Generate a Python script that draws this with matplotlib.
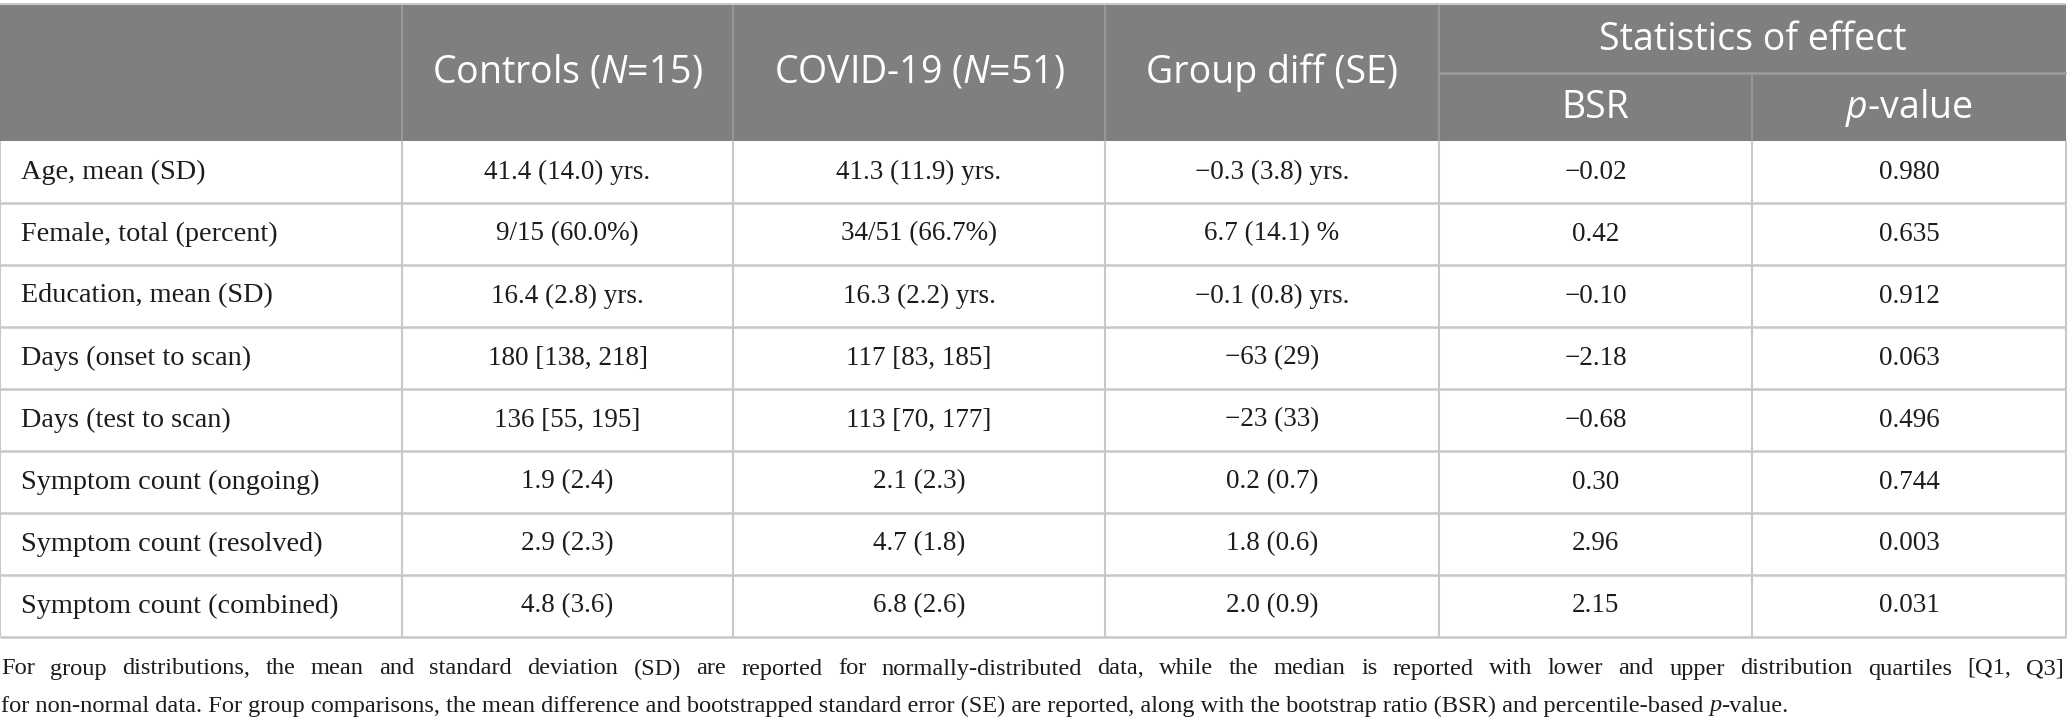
import matplotlib.pyplot as plt
from matplotlib.patches import Rectangle

plt.rcParams["mathtext.fontset"] = "custom"
plt.rcParams["mathtext.rm"] = "Open Sans"
plt.rcParams["mathtext.it"] = "Open Sans:italic"

# table content
row_labels = [
    "Age, mean (SD)",
    "Female, total (percent)",
    "Education, mean (SD)",
    "Days (onset to scan)",
    "Days (test to scan)",
    "Symptom count (ongoing)",
    "Symptom count (resolved)",
    "Symptom count (combined)",
]
controls = ["41.4 (14.0) yrs.", "9/15 (60.0%)", "16.4 (2.8) yrs.", "180 [138, 218]",
            "136 [55, 195]", "1.9 (2.4)", "2.9 (2.3)", "4.8 (3.6)"]
covid = ["41.3 (11.9) yrs.", "34/51 (66.7%)", "16.3 (2.2) yrs.", "117 [83, 185]",
         "113 [70, 177]", "2.1 (2.3)", "4.7 (1.8)", "6.8 (2.6)"]
group_diff = ["\u22120.3 (3.8) yrs.", "6.7 (14.1) %", "\u22120.1 (0.8) yrs.", "\u221263 (29)",
              "\u221223 (33)", "0.2 (0.7)", "1.8 (0.6)", "2.0 (0.9)"]
bsr = ["\u22120.02", "0.42", "\u22120.10", "\u22122.18", "\u22120.68", "0.30", "2.96", "2.15"]
p_values = ["0.980", "0.635", "0.912", "0.063", "0.496", "0.744", "0.003", "0.031"]

header_main = ["", "Controls ($N$=15)", "COVID-19 ($N$=51)", "Group diff (SE)"]
header_group = "Statistics of effect"
header_sub = ["BSR", "$p$-value"]

footnote = [
    "For group distributions, the mean and standard deviation (SD) are reported for normally-distributed data, "
    "while the median is reported with lower and upper distribution quartiles [Q1, Q3]",
    "for non-normal data. For group comparisons, the mean difference and bootstrapped standard error (SE) are "
    "reported, along with the bootstrap ratio (BSR) and percentile-based ",
]

W, H = 2067, 725
col_edges = [0, 402, 733, 1105, 1439, 1752, 2066]
top, mid, head_bot, row_h = 4, 73, 141, 62

HEAD_BG = "#7e7f7e"
HEAD_LINE = "#9b9c9b"
GRID = "#c8c8c8"
TXT = "#1c1c1c"

fig = plt.figure(figsize=(W / 100, H / 100), dpi=100)
ax = fig.add_axes([0, 0, 1, 1])
ax.set_xlim(0, W)
ax.set_ylim(H, 0)
ax.axis("off")

# header block
ax.add_patch(Rectangle((col_edges[0], top), col_edges[-1] - col_edges[0], head_bot - top,
                       facecolor=HEAD_BG, edgecolor="none", zorder=1))
ax.vlines(col_edges[1:5], top, head_bot, color=HEAD_LINE, lw=1.2, zorder=2)
ax.vlines(col_edges[5], mid, head_bot, color=HEAD_LINE, lw=1.2, zorder=2)
ax.hlines(mid, col_edges[4], col_edges[-1], color=HEAD_LINE, lw=1.8, zorder=2)
ax.hlines(top, col_edges[0], col_edges[-1], color=GRID, lw=1.5, zorder=2)

hfont = dict(family="Open Sans", size=27, color="white", ha="center", va="center", zorder=3)
for i, lab in enumerate(header_main):
    if lab:
        ax.text((col_edges[i] + col_edges[i + 1]) / 2, (top + head_bot) / 2, lab, **hfont)
ax.text((col_edges[4] + col_edges[6]) / 2, (top + mid) / 2 + 1, header_group, **hfont)
for i, lab in enumerate(header_sub):
    ax.text((col_edges[4 + i] + col_edges[5 + i]) / 2, (mid + head_bot) / 2 + 1, lab, **hfont)

# body
n = len(row_labels)
body_bot = head_bot + n * row_h
ax.vlines(col_edges, head_bot, body_bot, color=GRID, lw=1.5, zorder=2)
ax.hlines([head_bot + k * row_h for k in range(1, n + 1)], col_edges[0], col_edges[-1],
          color=GRID, lw=1.8, zorder=2)

bfont = dict(family="Liberation Serif", color=TXT, va="center", zorder=3)
columns = [controls, covid, group_diff, bsr, p_values]
for r in range(n):
    yc = head_bot + (r + 0.5) * row_h
    ax.text(col_edges[0] + 21, yc, row_labels[r], ha="left", size=20.3, **bfont)
    for c, vals in enumerate(columns):
        ax.text((col_edges[c + 1] + col_edges[c + 2]) / 2, yc, vals[r], ha="center",
                size=19.5, **bfont)

# footnote: first line justified to the table width
ffont = dict(family="Liberation Serif", size=17.6, color=TXT, va="center", ha="left")
to_data = ax.transData.inverted()
fig.canvas.draw()
words = footnote[0].split(" ")
y1 = body_bot + 32
arts = [ax.text(0, y1, w, **ffont) for w in words]
fig.canvas.draw()
widths = [a.get_window_extent().transformed(to_data).width for a in arts]
gap = (2064 - 1 - sum(widths)) / (len(words) - 1)
x = 1
for a, w in zip(arts, widths):
    a.set_x(x)
    x += w + gap

y2 = body_bot + 69
t = ax.text(1, y2, footnote[1], **ffont)
fig.canvas.draw()
bb = t.get_window_extent().transformed(to_data)
tp = ax.text(bb.x1, y2, "p", style="italic", **ffont)
fig.canvas.draw()
bb2 = tp.get_window_extent().transformed(to_data)
ax.text(bb2.x1, y2, "-value.", **ffont)

fig.savefig("out.png", dpi=100)
